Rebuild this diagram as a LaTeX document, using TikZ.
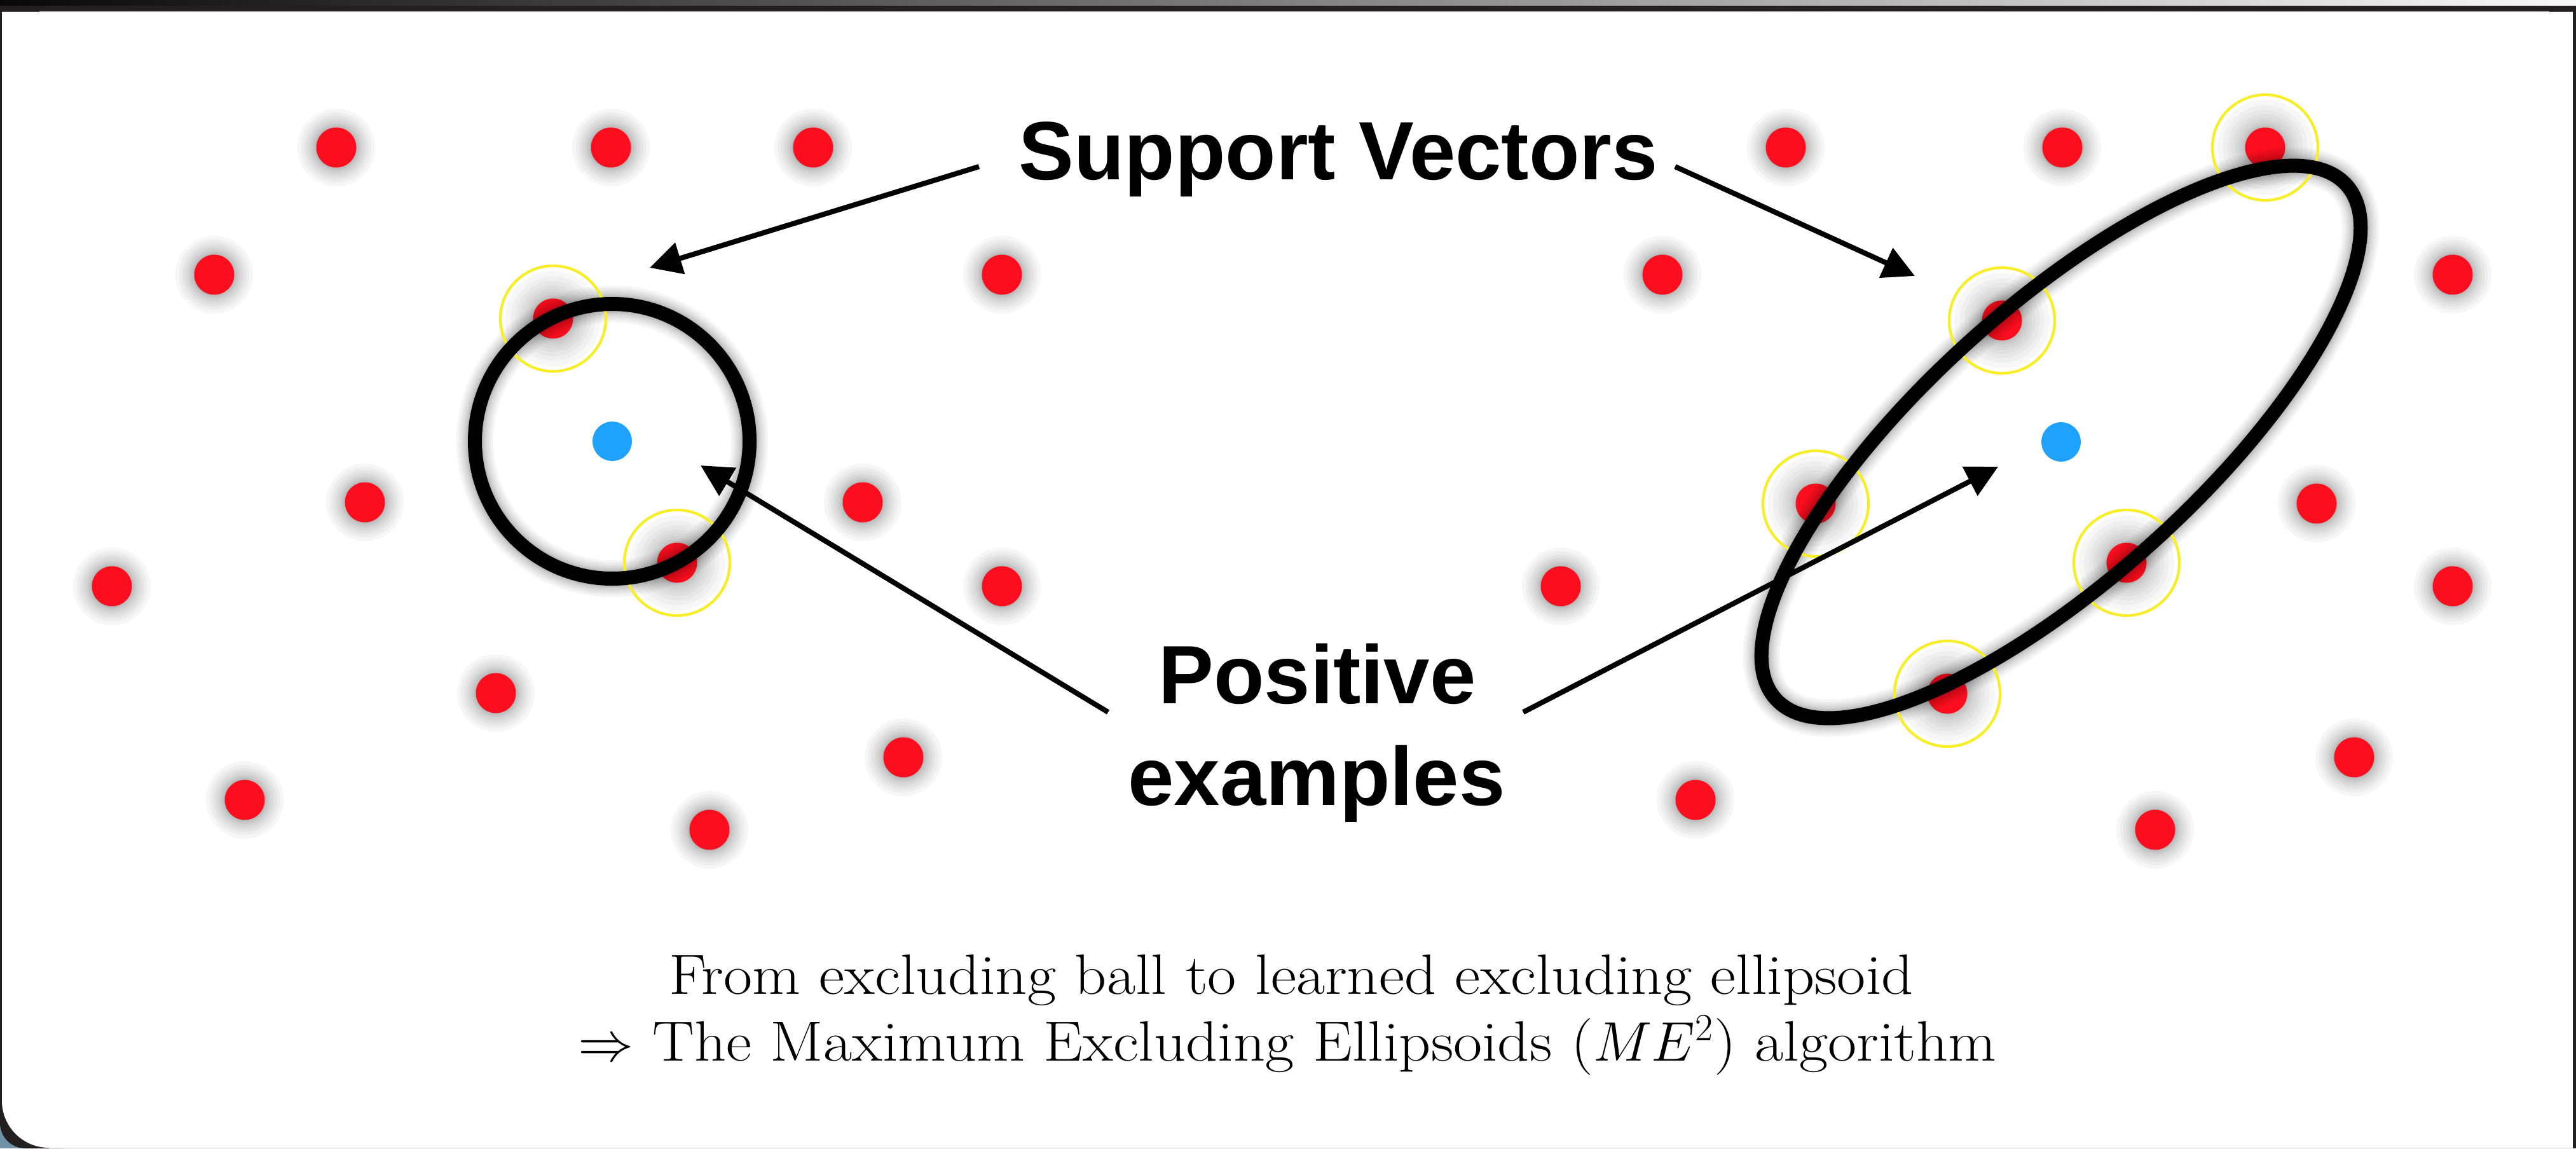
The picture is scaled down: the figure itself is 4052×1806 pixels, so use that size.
\documentclass[tikz,border=0pt]{standalone}
\usepackage{fontspec}
\newfontfamily\hsans{Liberation Sans}
\newfontfamily\capfont{Latin Modern Roman}[FakeStretch=1.1]
\usetikzlibrary{arrows.meta}
\definecolor{dotred}{RGB}{252,14,30}
\definecolor{dotblue}{RGB}{30,162,252}
\definecolor{svyellow}{RGB}{248,238,40}
\definecolor{framedark}{RGB}{35,31,32}
\definecolor{cornerblue}{RGB}{112,146,166}
\definecolor{edgegray}{RGB}{200,200,200}
\definecolor{bandleft}{RGB}{8,8,8}
\definecolor{bandright}{RGB}{248,248,248}
\definecolor{seamgray}{RGB}{90,90,90}
\tikzset{
  reddot/.style={circle, fill=dotred, inner sep=0pt, minimum size=17.9pt},
  bluedot/.style={circle, fill=dotblue, inner sep=0pt, minimum size=17.6pt},
  svring/.style={draw=svyellow, line width=1.2pt},
  bigring/.style={draw=black, line width=6.26pt},
  pointer/.style={draw=black, line width=2.3pt, -{Triangle[length=14.2pt, width=14.2pt]}},
  bigtext/.style={font=\hsans\bfseries\fontsize{37}{44}\selectfont, inner sep=0pt},
  captext/.style={font=\capfont\fontsize{25.4}{30}\selectfont, inner sep=0pt},
}
\def\plaindots{a1/529/232, a2/961/232, a3/1279/232, a4/337/432, a5/1576/432, a6/574/790, a7/1357/790, a8/176/922, a9/1576/922, a10/780/1090, a11/1421/1191, a12/385/1258, a13/1116/1305, b1/2809/232, b2/3244/232, b3/2615/432, b4/3858/432, b5/3644/792, b6/2455/922, b7/3858/922, b8/3703/1191, b9/2667/1258, b10/3390/1305}
\def\svdots{s1/870/501, s2/1065/885, t1/3563/232, t2/3149/504, t3/2856/792, t4/3345/885, t5/3063/1091}
\begin{document}
\begin{tikzpicture}[x=0.01cm, y=-0.01cm]
\useasboundingbox (0,0) rectangle (4052,1806);
% window frame
\fill[white] (0,0) rectangle (4052,1806);
\shade[left color=bandleft, right color=bandright] (0,0) rectangle (4052,9);
\fill[framedark] (0,9) rectangle (4052,18);
\fill[framedark] (0,9) rectangle (3,1806);
\fill[framedark] (4047,9) rectangle (4052,1806);
\fill[seamgray] (3,18) rectangle (62,19);
\fill[seamgray] (4010,18) rectangle (4047,19);
\fill[cornerblue] (0,1690) rectangle (100,1806);
\fill[framedark] (0,1690) -- (0,1766) arc[start angle=180, end angle=90, radius=40] -- (100,1806) -- (100,1690) -- cycle;
\fill[white] (3,1690) -- (3,1731) arc[start angle=180, end angle=90, radius=74] -- (120,1805) -- (120,1690) -- cycle;
\fill[edgegray] (77,1805) rectangle (4047,1806);
% glows of the dots
\foreach \n/\x/\y in \plaindots {\foreach \k in {1,...,10} {\fill[black, opacity=0.035] (\x,\y) circle ({31+30*(\k/10)^2});}}
\foreach \n/\x/\y in \svdots {\foreach \k in {1,...,10} {\fill[black, opacity=0.032] (\x,\y) circle ({31+44*(\k/10)^2});}}
% dots
\foreach \n/\x/\y in \plaindots {\node[reddot] (\n) at (\x,\y) {};}
\foreach \n/\x/\y in \svdots {\node[reddot] (\n) at (\x,\y) {};}
\node[bluedot] (cl) at (963,694) {};
\node[bluedot] (cr) at (3242,695) {};
% glow of ball and ellipsoid
\foreach \k in {1,...,9} {
  \draw[black, opacity=0.04, line width={(22+36*(\k/9)^2)*0.28453pt}] (cl.center) circle (216);
  \draw[black, opacity=0.04, line width={(22+36*(\k/9)^2)*0.28453pt}, rotate around={42:(cr.center)}] (cr.center) ellipse [x radius=604, y radius=214];
}
% support vector markers
\foreach \n/\x/\y in \svdots {\draw[svring] (\n.center) circle (83);}
% ball and ellipsoid
\draw[bigring] (cl.center) circle (216);
\draw[bigring, rotate around={42:(cr.center)}] (cr.center) ellipse [x radius=604, y radius=214];
% labels
\node[bigtext, anchor=base] (sv) at (2105,282) {Support Vectors};
\node[bigtext, anchor=base] (pos) at (2072,1106) {Positive};
\node[bigtext, anchor=base] (ex) at (2071,1266) {examples};
% arrows
\coordinate (svl) at (1540,262);
\coordinate (svr) at (2635,262);
\coordinate (pel) at (1743,1120);
\coordinate (per) at (2396,1120);
\coordinate (tipsvl) at (1022,421);
\coordinate (tipsvr) at (3012,434);
\coordinate (tippel) at (1102,732);
\coordinate (tipper) at (3143,734);
\draw[pointer] (svl) -- (tipsvl);
\draw[pointer] (svr) -- (tipsvr);
\draw[pointer] (pel) -- (tippel);
\draw[pointer] (per) -- (tipper);
% caption
\node[captext, anchor=base] (cap1) at (2031,1563) {From excluding ball to learned excluding ellipsoid};
\node[captext, anchor=base] (cap2) at (2025,1668) {$\Rightarrow$ The Maximum Excluding Ellipsoids ($ME^2$) algorithm};
\end{tikzpicture}
\end{document}
